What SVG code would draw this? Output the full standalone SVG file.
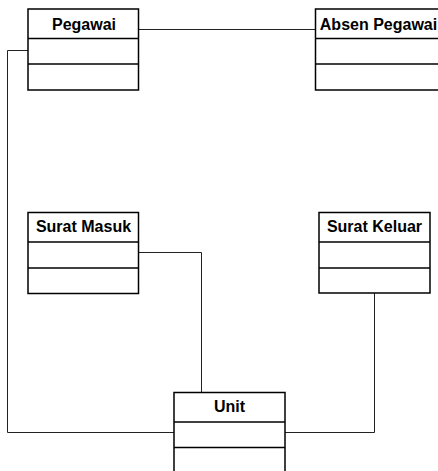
<svg xmlns="http://www.w3.org/2000/svg" width="438" height="471" viewBox="0 0 438 471">
  <style>
    .box { fill: #fff; stroke: #000; stroke-width: 1.5; }
    .div { stroke: #000; stroke-width: 1.5; }
    .title { font-family: "Liberation Sans", Arial, sans-serif; font-weight: bold; font-size: 16px; text-anchor: middle; fill: #000; }
    .conn { fill: none; stroke: #222; stroke-width: 1; }
  </style>
  <rect width="438" height="471" fill="#fff"/>

  <!-- associations -->
  <g id="connectors">
    <path class="conn" d="M138.5 29.5 H315.5"/>
    <path class="conn" d="M28 50.5 H7.5 V432.5 H174"/>
    <path class="conn" d="M138.5 252.5 H201.5 V392.5"/>
    <path class="conn" d="M374.5 293 V432.5 H285"/>
  </g>

  <g id="pegawai">
    <rect class="box" x="28" y="9" width="110.5" height="81"/>
    <line class="div" x1="28" y1="38.5" x2="138.5" y2="38.5"/>
    <line class="div" x1="28" y1="64" x2="138.5" y2="64"/>
    <text class="title" x="84" y="29.5">Pegawai</text>
  </g>

  <g id="absen-pegawai">
    <rect class="box" x="315.5" y="9" width="130" height="81"/>
    <line class="div" x1="315.5" y1="38.5" x2="445.5" y2="38.5"/>
    <line class="div" x1="315.5" y1="64" x2="445.5" y2="64"/>
    <text class="title" x="378.5" y="29.5">Absen Pegawai</text>
  </g>

  <g id="surat-masuk">
    <rect class="box" x="28" y="212.5" width="110.5" height="81"/>
    <line class="div" x1="28" y1="242" x2="138.5" y2="242"/>
    <line class="div" x1="28" y1="268" x2="138.5" y2="268"/>
    <text class="title" x="83.5" y="232">Surat Masuk</text>
  </g>

  <g id="surat-keluar">
    <rect class="box" x="319" y="212.5" width="111" height="80.5"/>
    <line class="div" x1="319" y1="242" x2="430" y2="242"/>
    <line class="div" x1="319" y1="268" x2="430" y2="268"/>
    <text class="title" x="374.5" y="232">Surat Keluar</text>
  </g>

  <g id="unit">
    <rect class="box" x="174" y="392.5" width="111" height="82"/>
    <line class="div" x1="174" y1="422" x2="285" y2="422"/>
    <line class="div" x1="174" y1="447.5" x2="285" y2="447.5"/>
    <text class="title" x="229.5" y="412">Unit</text>
  </g>
</svg>
